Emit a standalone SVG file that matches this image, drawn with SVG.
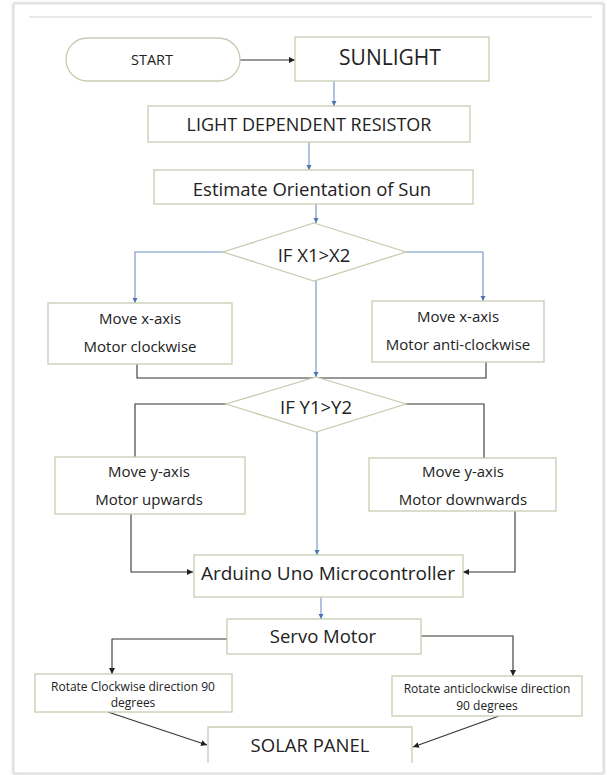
<svg xmlns="http://www.w3.org/2000/svg" width="607" height="775" viewBox="0 0 607 775">
<defs>
<style>
.bx{fill:#fff;stroke:#c9ccb2;stroke-width:1.3}
.t{font-family:"Open Sans","Liberation Sans",sans-serif;fill:#222;text-anchor:middle;dominant-baseline:central}
.bl{fill:none;stroke:#6f8fc4;stroke-width:1.1}
.dk{fill:none;stroke:#333;stroke-width:1.1}
</style>
<marker id="ab" markerWidth="6" markerHeight="6" refX="5" refY="3" orient="auto" markerUnits="userSpaceOnUse"><path d="M0,0.5 L5,3 L0,5.5z" fill="#4f74b3"/></marker>
<marker id="ad" markerWidth="7" markerHeight="7" refX="6" refY="3.5" orient="auto" markerUnits="userSpaceOnUse"><path d="M0,0.5 L6,3.5 L0,6.5z" fill="#222"/></marker>
<filter id="sh" x="-5%" y="-5%" width="110%" height="110%"><feGaussianBlur stdDeviation="1.5"/></filter>
</defs>
<rect width="607" height="775" fill="#fff"/>
<g id="frame">
<rect x="14" y="4" width="589" height="769" fill="none" stroke="#bbb" stroke-width="2" filter="url(#sh)"/>
<rect x="14" y="4" width="589" height="769" fill="#fff" stroke="#ddd" stroke-width="1"/>
<line x1="29" y1="17" x2="592" y2="17" stroke="#e2e2e2" stroke-width="1.5"/>
</g>
<g id="connectors">
<path class="dk" d="M240,60 H295" marker-end="url(#ad)"/>
<path class="bl" d="M334,81 V106" marker-end="url(#ab)"/>
<path class="bl" d="M309,142 V170" marker-end="url(#ab)"/>
<path class="bl" d="M316,204 V223" marker-end="url(#ab)"/>
<path class="bl" d="M223,252 H135 V303" marker-end="url(#ab)"/>
<path class="bl" d="M406,252 H483 V301" marker-end="url(#ab)"/>
<path class="bl" d="M316,281 V377" marker-end="url(#ab)"/>
<path class="dk" d="M137,364 V378 H486 V362"/>
<path class="dk" d="M226,404 H135 V457"/>
<path class="dk" d="M406,404 H484 V458"/>
<path class="bl" d="M317,432 V555" marker-end="url(#ab)"/>
<path class="dk" d="M131,514 V572 H193" marker-end="url(#ad)"/>
<path class="dk" d="M515,511 V572 H463" marker-end="url(#ad)"/>
<path class="bl" d="M321,597 V619" marker-end="url(#ab)"/>
<path class="dk" d="M227,639 H112 V674" marker-end="url(#ad)"/>
<path class="dk" d="M421,636 H513 V676" marker-end="url(#ad)"/>
<path class="dk" d="M108,712 L207,745" marker-end="url(#ad)"/>
<path class="dk" d="M499,716 L413,747" marker-end="url(#ad)"/>
</g>
<g id="start">
<rect class="bx" x="66" y="38" width="174" height="43" rx="21.5"/>
<text class="t" x="152" y="59" font-size="14.5">START</text>
</g>
<g id="sunlight">
<rect class="bx" x="295" y="37" width="194" height="44"/>
<text class="t" x="390" y="57" font-size="21">SUNLIGHT</text>
</g>
<g id="ldr">
<rect class="bx" x="148" y="106" width="322" height="36"/>
<text class="t" x="309" y="124" font-size="18">LIGHT DEPENDENT RESISTOR</text>
</g>
<g id="estimate">
<rect class="bx" x="154" y="170" width="319" height="34"/>
<text class="t" x="312" y="188" font-size="18.5">Estimate Orientation of Sun</text>
</g>
<g id="ifx">
<polygon class="bx" points="314,223 406,252 314,281 223,252"/>
<text class="t" x="314" y="254" font-size="18.5">IF X1&gt;X2</text>
</g>
<g id="xcw">
<rect class="bx" x="48" y="303" width="184" height="61"/>
<text class="t" x="140" y="318" font-size="15">Move x-axis</text>
<text class="t" x="140" y="346" font-size="15">Motor clockwise</text>
</g>
<g id="xacw">
<rect class="bx" x="372" y="301" width="172" height="61"/>
<text class="t" x="458" y="316" font-size="15">Move x-axis</text>
<text class="t" x="458" y="344" font-size="15">Motor anti-clockwise</text>
</g>
<g id="ify">
<polygon class="bx" points="316,377 406,404 316,432 226,404"/>
<text class="t" x="316" y="406" font-size="18.5">IF Y1&gt;Y2</text>
</g>
<g id="yup">
<rect class="bx" x="55" y="457" width="190" height="57"/>
<text class="t" x="149" y="471" font-size="15">Move y-axis</text>
<text class="t" x="149" y="499" font-size="15">Motor upwards</text>
</g>
<g id="ydown">
<rect class="bx" x="369" y="458" width="187" height="53"/>
<text class="t" x="463" y="471" font-size="15">Move y-axis</text>
<text class="t" x="463" y="499" font-size="15">Motor downwards</text>
</g>
<g id="arduino">
<rect class="bx" x="194" y="555" width="269" height="42"/>
<text class="t" x="328" y="573" font-size="19">Arduino Uno Microcontroller</text>
</g>
<g id="servo">
<rect class="bx" x="227" y="619" width="194" height="35"/>
<text class="t" x="323" y="635" font-size="18.5">Servo Motor</text>
</g>
<g id="rcw">
<rect class="bx" x="35" y="674" width="197" height="38"/>
<text class="t" x="133" y="686" font-size="12">Rotate Clockwise direction 90</text>
<text class="t" x="133" y="702" font-size="12">degrees</text>
</g>
<g id="racw">
<rect class="bx" x="392" y="676" width="190" height="40"/>
<text class="t" x="487" y="688" font-size="12">Rotate anticlockwise direction</text>
<text class="t" x="487" y="705" font-size="12">90 degrees</text>
</g>
<g id="solar">
<path class="bx" d="M208,763 V727 H412 V763"/>
<text class="t" x="310" y="744" font-size="18.5">SOLAR PANEL</text>
</g>
</svg>
